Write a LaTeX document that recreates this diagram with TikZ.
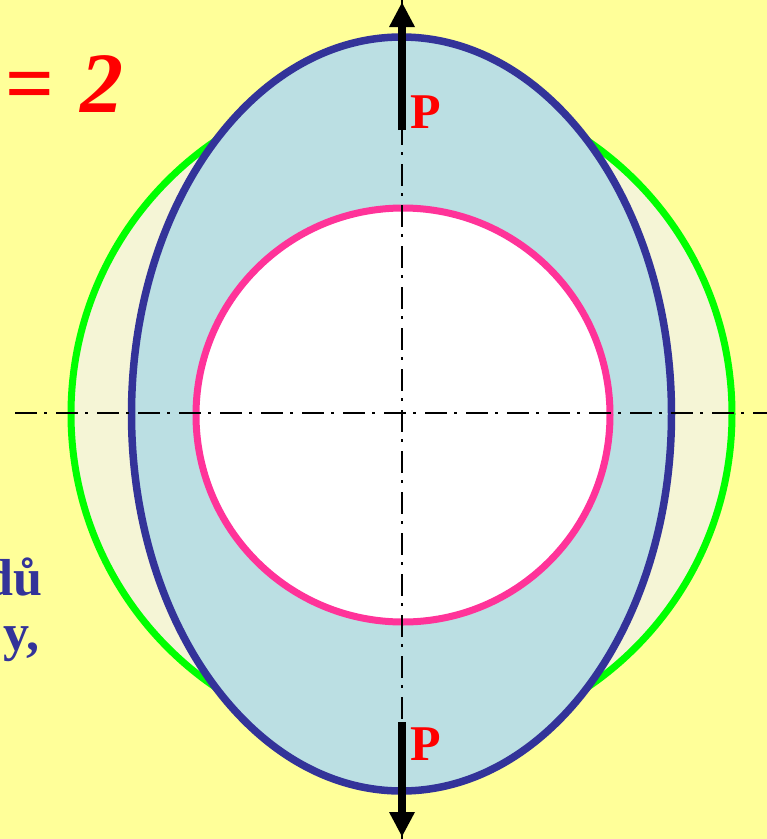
\documentclass[tikz,border=0pt]{standalone}
\usepackage{fontspec}
\setmainfont{Liberation Serif}
\usetikzlibrary{arrows.meta}
\definecolor{bg}{HTML}{FFFF99}
\definecolor{cream}{HTML}{F5F5D6}
\definecolor{lblue}{HTML}{BBDFE3}
\definecolor{dblue}{HTML}{333399}
\definecolor{lgreen}{HTML}{00FF00}
\definecolor{rpink}{HTML}{FF3399}
\begin{document}
\begin{tikzpicture}[x=1pt,y=-1pt,
  axisline/.style={line width=2pt, dash pattern=on 22pt off 7pt on 3pt off 9pt},
  force/.style={line width=8pt, -{Triangle[width=24pt,length=25pt]}},
  plabel/.style={text=red, font=\fontsize{50}{50}\selectfont\bfseries, inner sep=0pt, anchor=base west},
  sidetext/.style={text=dblue, font=\fontsize{52}{52}\selectfont\bfseries, inner sep=0pt, anchor=base east}]
\useasboundingbox (0,0) rectangle (767,839);
\clip (0,0) rectangle (767,839);
\fill[bg] (0,0) rectangle (767,839);
% shapes
\path[fill=cream, draw=lgreen, line width=7pt] (401.5,414) circle (330.5);
\path[fill=lblue, draw=dblue, line width=7.5pt] (401.5,414) ellipse (270 and 377);
\path[fill=white, draw=rpink, line width=7pt] (403,415) circle (207);
% axes
\coordinate (hl) at (15,413);
\coordinate (hr) at (767,413);
\coordinate (vt) at (402,0);
\coordinate (vb) at (402,839);
\draw[axisline] (hl) -- (hr);
\draw[axisline] (vt) -- (vb);
% forces
\coordinate (t1) at (402,130);
\coordinate (t2) at (402,2);
\coordinate (b1) at (402,722);
\coordinate (b2) at (402,837);
\draw[force] (t1) -- (t2);
\draw[force] (b1) -- (b2);
\node[plabel] (pt) at (410,128) {P};
\node[plabel] (pb) at (410,760) {P};
% texts
\node[text=red, font=\fontsize{86}{86}\selectfont\bfseries, inner sep=0pt, anchor=base west] (eq) at (5,112) {=\hspace{0.3em}\textit{2}};
\node[sidetext] (t1x) at (43,595) {dů};
\node[sidetext] (t2x) at (40,650) {y,};
\end{tikzpicture}
\end{document}
